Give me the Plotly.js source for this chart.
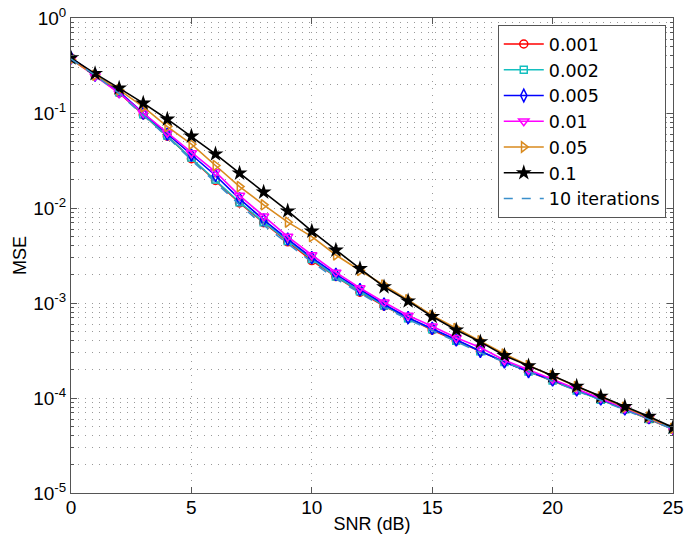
<!DOCTYPE html>
<html>
<head>
<meta charset="utf-8">
<script src="https://cdn.plot.ly/plotly-3.0.1.min.js"></script>
<style>html,body{margin:0;padding:0;background:#fff;}#chart{width:685px;height:544px;}</style>
</head>
<body>
<div id="chart"></div>
<script>
const snr = [0,1,2,3,4,5,6,7,8,9,10,11,12,13,14,15,16,17,18,19,20,21,22,23,24,25];
const mse_0001 = [0.38,0.25,0.163,0.096,0.057,0.033,0.0195,0.0113,0.0070,0.0044,0.0028,0.0019,0.00130,0.00093,0.00069,0.00052,0.00040,0.00031,0.00024,0.00019,0.000152,0.000120,0.000096,0.000076,0.000060,0.000047];
const mse_0002 = [0.37,0.25,0.165,0.097,0.058,0.034,0.0200,0.0115,0.0071,0.0045,0.0029,0.0019,0.00133,0.00094,0.00069,0.00053,0.00040,0.00031,0.00024,0.00019,0.000153,0.000120,0.000096,0.000076,0.000060,0.000047];
const mse_0005 = [0.38,0.25,0.168,0.100,0.060,0.036,0.0220,0.0125,0.0075,0.0047,0.0030,0.0020,0.00138,0.00097,0.00070,0.00054,0.00041,0.00031,0.00024,0.00019,0.000155,0.000122,0.000098,0.000077,0.000062,0.000048];
const mse_001 = [0.37,0.245,0.162,0.100,0.062,0.038,0.0240,0.0135,0.0082,0.0050,0.0032,0.0021,0.00144,0.00102,0.00074,0.00057,0.00043,0.00034,0.00025,0.000198,0.000158,0.000125,0.000100,0.000078,0.000062,0.000047];
const mse_005 = [0.365,0.25,0.175,0.116,0.072,0.047,0.0280,0.0168,0.0108,0.0071,0.0050,0.0032,0.00220,0.00155,0.00108,0.00074,0.00054,0.00040,0.00029,0.00022,0.000172,0.000132,0.000103,0.000080,0.000063,0.000048];
const mse_01 = [0.38,0.26,0.183,0.127,0.086,0.057,0.0370,0.0233,0.0147,0.0093,0.0057,0.0036,0.00230,0.00148,0.00105,0.00072,0.00052,0.00039,0.00028,0.000218,0.000172,0.000133,0.000104,0.000081,0.000064,0.000049];
const mse_iter10 = [0.37,0.25,0.160,0.095,0.056,0.032,0.0188,0.0108,0.0066,0.0042,0.0027,0.0018,0.00126,0.00090,0.00067,0.00051,0.00039,0.00030,0.00024,0.00019,0.000151,0.000120,0.000095,0.000075,0.000060,0.000047];
const seriesNames = ["0.001","0.002","0.005","0.01","0.05","0.1","10 iterations"];
const yTickVals = [1e-5,1e-4,1e-3,1e-2,1e-1,1];
const yTickText = ["10<sup>-5</sup>","10<sup>-4</sup>","10<sup>-3</sup>","10<sup>-2</sup>","10<sup>-1</sup>","10<sup>0</sup>"];
const xTickVals = [0,5,10,15,20,25];

const font = "'Liberation Sans', Arial, Helvetica, sans-serif";
const legendFont = "'DejaVu Sans', 'Liberation Sans', sans-serif";
function tr(y, name, color, symbol, size, extra) {
  return Object.assign({
    x: snr, y: y, name: name, type: "scatter", mode: "lines+markers",
    line: {color: color, width: 1.6},
    marker: {symbol: symbol, size: size, color: color, line: {color: color, width: 1.5}}
  }, extra || {});
}
const data = [
  tr(mse_0001, seriesNames[0], "#ff0000", "circle-open", 8),
  tr(mse_0002, seriesNames[1], "#14bfbf", "square-open", 7),
  tr(mse_0005, seriesNames[2], "#0000ff", "diamond-tall-open", 9),
  tr(mse_001, seriesNames[3], "#ff00ff", "triangle-down-open", 9),
  tr(mse_005, seriesNames[4], "#d98a1e", "triangle-right-open", 9),
  tr(mse_01, seriesNames[5], "#000000", "star", 12, {marker: {symbol: "star", size: 12, color: "#000000", line: {width: 0}}}),
  {x: snr, y: mse_iter10, name: seriesNames[6], type: "scatter", mode: "lines",
   line: {color: "#3a8fcb", width: 1.6, dash: "dash"}}
];
const gridDash = "1px,6px";
const axisCommon = {
  showline: true, linecolor: "#555", linewidth: 1, mirror: "ticks",
  ticks: "inside", tickcolor: "#555", ticklen: 6,
  gridcolor: "#999", griddash: gridDash, gridwidth: 1,
  zeroline: false,
  tickfont: {family: font, size: 19, color: "#000"}
};
const layout = {
  width: 685, height: 544,
  margin: {l: 71, r: 12, t: 18, b: 51},
  paper_bgcolor: "#fff", plot_bgcolor: "#fff",
  showlegend: true,
  xaxis: Object.assign({}, axisCommon, {
    range: [0, 25], tickvals: xTickVals, showgrid: true, ticklabelstandoff: -3,
    title: {text: "SNR (dB)", font: {family: font, size: 18, color: "#000"}, standoff: 0}
  }),
  yaxis: Object.assign({}, axisCommon, {
    type: "log", range: [-5, 0], tickvals: yTickVals, ticktext: yTickText, showgrid: true,
    minor: {dtick: "D1", showgrid: true, gridcolor: "#999", griddash: gridDash, gridwidth: 1, ticks: "inside", ticklen: 3, tickcolor: "#555"},
    title: {text: "MSE", font: {family: font, size: 18, color: "#000"}, standoff: 1}
  }),
  legend: {
    x: 0.988, y: 0.985, xanchor: "right", yanchor: "top",
    bgcolor: "#fff", bordercolor: "#555", borderwidth: 1,
    font: {family: legendFont, size: 17.5, color: "#000"},
    itemwidth: 40, tracegroupgap: 0
  }
};
Plotly.newPlot("chart", data, layout, {displayModeBar: false, staticPlot: true});
</script>
</body>
</html>
